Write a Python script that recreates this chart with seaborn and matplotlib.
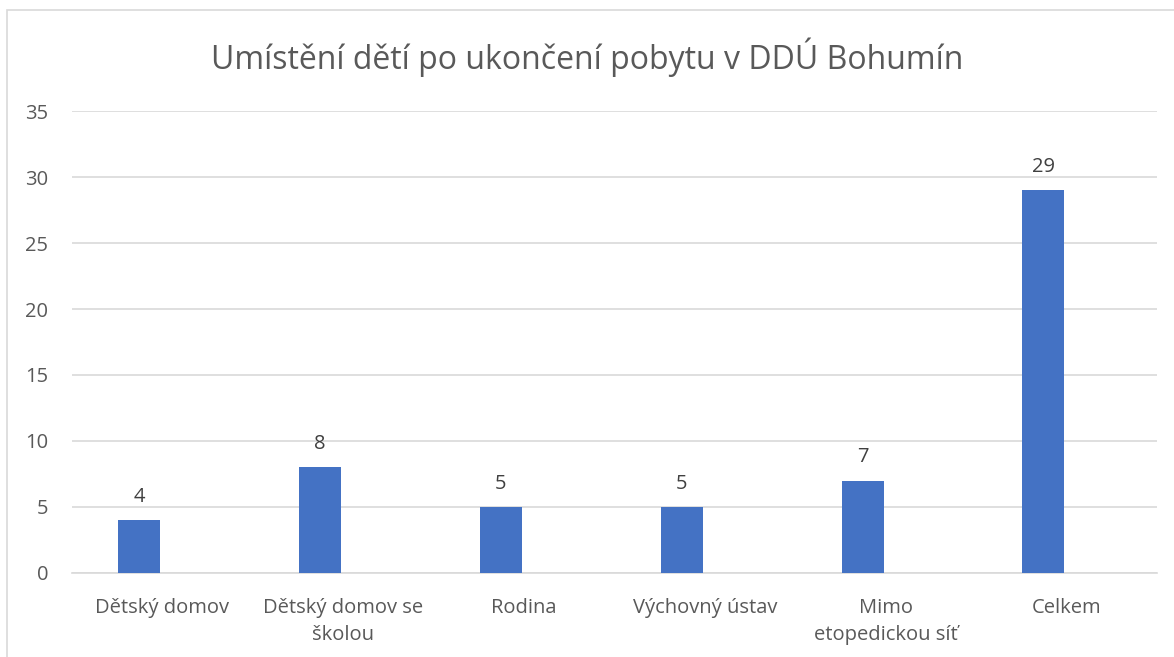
import matplotlib
matplotlib.use("Agg")
import matplotlib.pyplot as plt
import seaborn as sns
import pandas as pd
from matplotlib.patches import Rectangle

categories = ["Dětský domov", "Dětský domov se\nškolou", "Rodina", "Výchovný ústav",
              "Mimo\netopedickou síť", "Celkem"]
values = [4, 8, 5, 5, 7, 29]
yticks = [0, 5, 10, 15, 20, 25, 30, 35]
title = "Umístění dětí po ukončení pobytu v DDÚ Bohumín"

sns.set_theme(style="white")
plt.rcParams['font.family'] = ['Open Sans', 'DejaVu Sans']

BAR_SHIFT = -0.128

df = pd.DataFrame({"cat": categories, "val": values})
fig = plt.figure(figsize=(11.74, 6.57), dpi=100)
ax = fig.add_axes([0.0613, 0.1279, 0.9242, 0.7031])
sns.barplot(data=df, x="cat", y="val", color="#4472C4", width=0.232, ax=ax, zorder=3,
            saturation=1)
for p in ax.patches:
    p.set_x(p.get_x() + BAR_SHIFT)
    p.set_linewidth(0)
ax.set_ylim(0, 35)
ax.set_yticks(yticks)
ax.set_xlim(-0.5, len(categories) - 0.5)
ax.yaxis.grid(True, color="#d9d9d9", linewidth=1.2, zorder=0)
for s in ["top", "right", "left"]:
    ax.spines[s].set_visible(False)
ax.spines["bottom"].set_color("#d9d9d9")
ax.spines["bottom"].set_linewidth(1.2)
ax.tick_params(axis="both", length=0, labelsize=14.5, colors="#595959")
ax.tick_params(axis="y", pad=17)
ax.tick_params(axis="x", pad=18)
ax.set_xlabel("")
ax.set_ylabel("")
for lbl in ax.get_xticklabels():
    lbl.set_linespacing(1.45)
for i, v in enumerate(values):
    ax.text(i + BAR_SHIFT, v + 1.0, str(v), ha="center", va="bottom", fontsize=14.5,
            color="#404040")
fig.text(0.5, 0.913, title, ha="center", va="center", fontsize=23, color="#595959")
fig.patches.append(Rectangle((7 / 1174, -0.05), 1.2, 1 - 10 / 657 + 0.05,
                             transform=fig.transFigure, fill=False,
                             edgecolor="#d9d9d9", linewidth=1.2))
fig.savefig("out.png", dpi=100)
